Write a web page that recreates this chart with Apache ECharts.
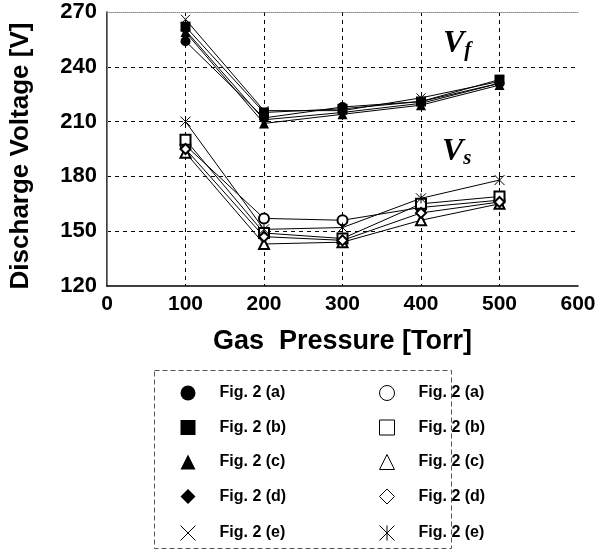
<!DOCTYPE html>
<html><head><meta charset="utf-8">
<script src="https://cdn.jsdelivr.net/npm/echarts@6/dist/echarts.min.js"></script>
<style>html,body{margin:0;padding:0;background:#fff}#c{width:602px;height:551px}</style>
</head><body><div id="c"></div>
<script>
const pressures = [100, 200, 300, 400, 500];
const xTicks = [0, 100, 200, 300, 400, 500, 600];
const yTicks = [120, 150, 180, 210, 240, 270];
const legendNames = ['Fig. 2 (a)', 'Fig. 2 (b)', 'Fig. 2 (c)', 'Fig. 2 (d)', 'Fig. 2 (e)'];
// Vf (filled markers)
const vfA = [254, 212, 218, 221, 231];
const vfB = [262, 215, 217, 221, 233];
const vfC = [259, 209, 214, 219, 230];
const vfD = [260, 211, 215, 220, 231];
const vfE = [266, 216, 216, 223, 232];
// Vs (open markers)
const vsA = [197, 157, 156, 163, 167];
const vsB = [200, 149, 146, 165, 169];
const vsC = [193, 143, 144, 156, 165];
const vsD = [195, 147, 145, 160, 166];
const vsE = [210, 151, 152, 168, 178];

const CROSS = 'path://M0,0L10,10M10,0L0,10';
const STAR = 'path://M0,0L10,10M10,0L0,10M5,0L5,10';
const FONT = '"Liberation Sans", Arial, sans-serif';

function pts(arr){ return pressures.map((p,i)=>[p, arr[i]]); }

const filledSyms = ['circle','rect','triangle','diamond',CROSS];
const openSyms = ['emptyCircle','emptyRect','emptyTriangle','emptyDiamond',STAR];
const vfData = [vfA, vfB, vfC, vfD, vfE];
const vsData = [vsA, vsB, vsC, vsD, vsE];
const keys = ['a','b','c','d','e'];

const series = [];
vfData.forEach((d,i)=>{
  const isPath = i === 4;
  series.push({
    name: 'Vf ' + keys[i], type: 'line', data: pts(d),
    symbol: filledSyms[i], symbolSize: i===4 ? 9 : 10,
    lineStyle: {color:'#000', width: 1},
    itemStyle: isPath ? {color:'none', borderColor:'#000', borderWidth:1} : {color:'#000'},
    emphasis: {disabled: true}, z: 3
  });
});
vsData.forEach((d,i)=>{
  const isPath = i === 4;
  series.push({
    name: 'Vs ' + keys[i], type: 'line', data: pts(d),
    symbol: openSyms[i], symbolSize: 10,
    lineStyle: {color:'#000', width: 1},
    itemStyle: isPath ? {color:'none', borderColor:'#000', borderWidth:1} : {color:'#000', borderWidth: 1},
    emphasis: {disabled: true}, z: 3
  });
});

const legendIconsF = ['circle','rect','triangle','diamond',CROSS];
const legendIconsO = ['circle','rect','triangle','diamond',STAR];

function legendCfg(prefix, icons, open, left){
  return {
    orient: 'vertical', left: left, top: 385, height: 170, padding: 0,
    itemWidth: 15, itemHeight: 15, itemGap: 18.5,
    selectedMode: false,
    textStyle: {fontFamily: FONT, fontWeight: 'bold', fontSize: 16, color: '#000', lineHeight: 15,
      rich: {g: {width: 19, height: 15, lineHeight: 15}, t: {fontFamily: FONT, fontWeight: 'bold', fontSize: 16, color: '#000', height: 15, lineHeight: 15}}},
    formatter: function(n){ return '{g|}{t|' + legendNames[keys.indexOf(n.slice(-1))] + '}'; },
    data: keys.map((k,i)=>({
      name: prefix + ' ' + k,
      icon: icons[i],
      itemStyle: (open || i===4) ? {color: i===4 ? 'none' : '#fff', borderColor:'#000', borderWidth: 1} : {color:'#000', borderWidth: 0}
    }))
  };
}

const chart = echarts.init(document.getElementById('c'), null, {renderer: 'canvas'});
chart.setOption({
  animation: false,
  backgroundColor: '#fff',
  grid: {left: 107, top: 12, right: 24, bottom: 265},
  xAxis: [{
    type: 'value', min: xTicks[0], max: xTicks[xTicks.length-1], interval: 100,
    name: 'Gas  Pressure [Torr]', nameLocation: 'middle', nameGap: 42,
    nameTextStyle: {fontFamily: FONT, fontWeight: 'bold', fontSize: 27, color: '#000'},
    axisLine: {lineStyle: {color: '#000', width: 1.5}},
    axisTick: {show: false},
    axisLabel: {fontFamily: FONT, fontWeight: 'bold', fontSize: 21, color: '#000', margin: 8},
    splitLine: {show: true, showMinLine: false, showMaxLine: false, lineStyle: {color: '#000', type: [4,4], width: 1}}
  },{
    type: 'value', position: 'top', min: 0, max: 600,
    axisLine: {show: true, lineStyle: {color: '#888', type: 'dotted', width: 1}},
    axisTick: {show: false}, axisLabel: {show: false}, splitLine: {show: false}
  }],
  yAxis: [{
    type: 'value', min: yTicks[0], max: yTicks[yTicks.length-1], interval: 30,
    name: 'Discharge Voltage [V]', nameLocation: 'middle', nameGap: 73,
    nameTextStyle: {fontFamily: FONT, fontWeight: 'bold', fontSize: 26, color: '#000', padding: [0, 14, 0, 0]},
    axisLine: {show: true, lineStyle: {color: '#000', width: 1.5}},
    axisTick: {show: false},
    axisLabel: {fontFamily: FONT, fontWeight: 'bold', fontSize: 22, color: '#000', margin: 10},
    splitLine: {show: true, showMinLine: false, showMaxLine: false, lineStyle: {color: '#000', type: [4,4], width: 1}}
  },{
    type: 'value', position: 'right', min: 120, max: 270,
    axisLine: {show: true, lineStyle: {color: '#888', type: 'dotted', width: 1}},
    axisTick: {show: false}, axisLabel: {show: false}, splitLine: {show: false}
  }],
  legend: [legendCfg('Vf', legendIconsF, false, 178), legendCfg('Vs', legendIconsO, true, 377)],
  graphic: [
    {type: 'rect', left: 152, top: 368, shape: {width: 297, height: 178},
     style: {fill: 'none', stroke: '#555', lineWidth: 1, lineDash: [5,3]}, z: -1},
    {type: 'text', left: 443, top: 28, style: {
      rich: {v: {fontFamily: '"Liberation Serif", serif', fontStyle: 'italic', fontWeight: 'bold', fontSize: 32, color: '#000'},
             s: {fontFamily: '"Liberation Serif", serif', fontStyle: 'italic', fontWeight: 'bold', fontSize: 21, color: '#000', padding: [14,0,0,0]}},
      text: '{v|V}{s|f}'}},
    {type: 'text', left: 442, top: 136, style: {
      rich: {v: {fontFamily: '"Liberation Serif", serif', fontStyle: 'italic', fontWeight: 'bold', fontSize: 32, color: '#000'},
             s: {fontFamily: '"Liberation Serif", serif', fontStyle: 'italic', fontWeight: 'bold', fontSize: 21, color: '#000', padding: [14,0,0,0]}},
      text: '{v|V}{s|s}'}}
  ],
  series: series
});
</script></body></html>
